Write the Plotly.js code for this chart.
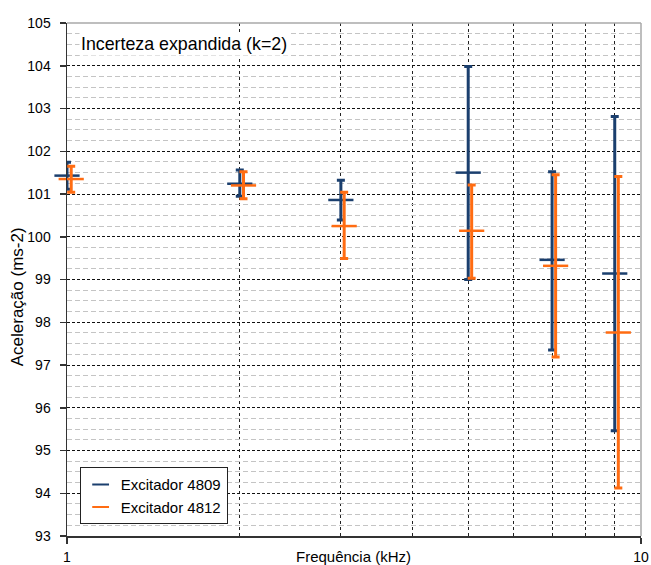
<!DOCTYPE html>
<html>
<head>
<meta charset="utf-8">
<script src="https://cdn.plot.ly/plotly-3.0.1.min.js"></script>
<style>html,body{margin:0;padding:0;background:#fff;}#chart{width:651px;height:565px;}</style>
</head>
<body>
<div id="chart"></div>
<script>
// Frequencies (kHz)
const freq4809 = [1, 2, 3, 5, 7, 9];
const freq4812 = [1.017, 2.03, 3.04, 5.07, 7.1, 9.13];
// Excitador 4809: centre, upper and lower limits (m s-2)
const val4809   = [101.43, 101.24, 100.86, 101.50, 99.46, 99.14];
const upper4809 = [101.74, 101.56, 101.32, 103.98, 101.52, 102.81];
const lower4809 = [101.11, 100.95, 100.39,  99.00, 97.35, 95.46];
// Excitador 4812
const val4812   = [101.35, 101.20, 100.25, 100.14, 99.32, 97.76];
const upper4812 = [101.65, 101.52, 101.04, 101.21, 101.45, 101.41];
const lower4812 = [101.04, 100.89,  99.49,  99.03, 97.19, 94.12];
const seriesNames = ['Excitador 4809', 'Excitador 4812'];
const xTickVals = [1, 10];
const xTickText = ['1', '10'];
const xGridVals = [2, 3, 4, 5, 6, 7, 8, 9];

const BLUE = '#1B3F6E', ORANGE = '#FF6C12';
const FONT = 'Liberation Sans, Arial, sans-serif';

function mk(name, x, y, up, lo, color) {
  return {
    type: 'scatter', mode: 'markers', name: name, x: x, y: y,
    cliponaxis: false,
    marker: {symbol: 'line-ew', size: 18, color: color, line: {color: color, width: 2.5}},
    error_y: {
      type: 'data', symmetric: false,
      array: up.map((u, i) => u - y[i]),
      arrayminus: lo.map((l, i) => y[i] - l),
      color: color, thickness: 3, width: 4
    }
  };
}

const data = [
  mk(seriesNames[0], freq4809, val4809, upper4809, lower4809, BLUE),
  mk(seriesNames[1], freq4812, val4812, upper4812, lower4812, ORANGE)
];

const layout = {
  width: 651, height: 565,
  margin: {l: 67, r: 10, t: 23, b: 29},
  paper_bgcolor: '#fff', plot_bgcolor: '#fff',
  font: {family: FONT, size: 14, color: '#000'},
  showlegend: true,
  legend: {
    x: 0.022, y: 0.134, xanchor: 'left', yanchor: 'top',
    bgcolor: '#fff', bordercolor: '#222', borderwidth: 1,
    font: {family: FONT, size: 15, color: '#000'},
    itemsizing: 'constant', itemwidth: 30, tracegroupgap: 0
  },
  xaxis: {
    type: 'log', range: [0, 1],
    tickmode: 'array', tickvals: xTickVals, ticktext: xTickText,
    ticks: 'outside', ticklen: 6, tickcolor: '#333', tickwidth: 1.5,
    showgrid: false, zeroline: false,
    showline: true, linecolor: '#333', linewidth: 1.5,
    ticklabelstandoff: 2,
    tickfont: {family: FONT, size: 14, color: '#000'},
    minor: {tickmode: 'array', tickvals: xGridVals, ticks: '', showgrid: true,
            gridcolor: '#222', gridwidth: 1, griddash: '3px,3px'}
  },
  yaxis: {
    range: [93, 105], dtick: 1, tick0: 93,
    ticks: 'outside', ticklen: 6, tickcolor: '#333', tickwidth: 1.5,
    showgrid: true, gridcolor: '#111', gridwidth: 1, griddash: '3px,2px',
    zeroline: false, showline: true, linecolor: '#333', linewidth: 1.5,
    ticklabelstandoff: 6,
    tickfont: {family: FONT, size: 14, color: '#000'},
    minor: {dtick: 0.25, ticks: '', showgrid: true, gridcolor: '#c4c4c4',
            gridwidth: 1, griddash: '5px,3px'}
  },
  shapes: [
    {type: 'line', xref: 'paper', yref: 'paper', x0: 0, x1: 1, y0: 1, y1: 1,
     line: {color: '#a8a8a8', width: 1.5}},
    {type: 'line', xref: 'paper', yref: 'paper', x0: 1, x1: 1, y0: 0, y1: 1,
     line: {color: '#a8a8a8', width: 1.5}}
  ],
  annotations: [
    {text: 'Incerteza expandida (k=2)', xref: 'paper', yref: 'paper',
     x: 0.021, y: 0.960, xanchor: 'left', yanchor: 'middle', showarrow: false,
     bgcolor: '#fff', borderpad: 1,
     font: {family: FONT, size: 17.8, color: '#000'}},
    {text: 'Frequência (kHz)', xref: 'paper', yref: 'paper',
     x: 0.4994, y: -0.039, xanchor: 'center', yanchor: 'middle', showarrow: false,
     font: {family: FONT, size: 15, color: '#000'}},
    {text: 'Aceleração (ms-2)', xref: 'paper', yref: 'paper', textangle: -90,
     x: -0.0848, y: 0.466, xanchor: 'center', yanchor: 'middle', showarrow: false,
     font: {family: FONT, size: 17, color: '#000'}}
  ]
};

Plotly.newPlot('chart', data, layout, {displayModeBar: false, staticPlot: true});
</script>
</body>
</html>
